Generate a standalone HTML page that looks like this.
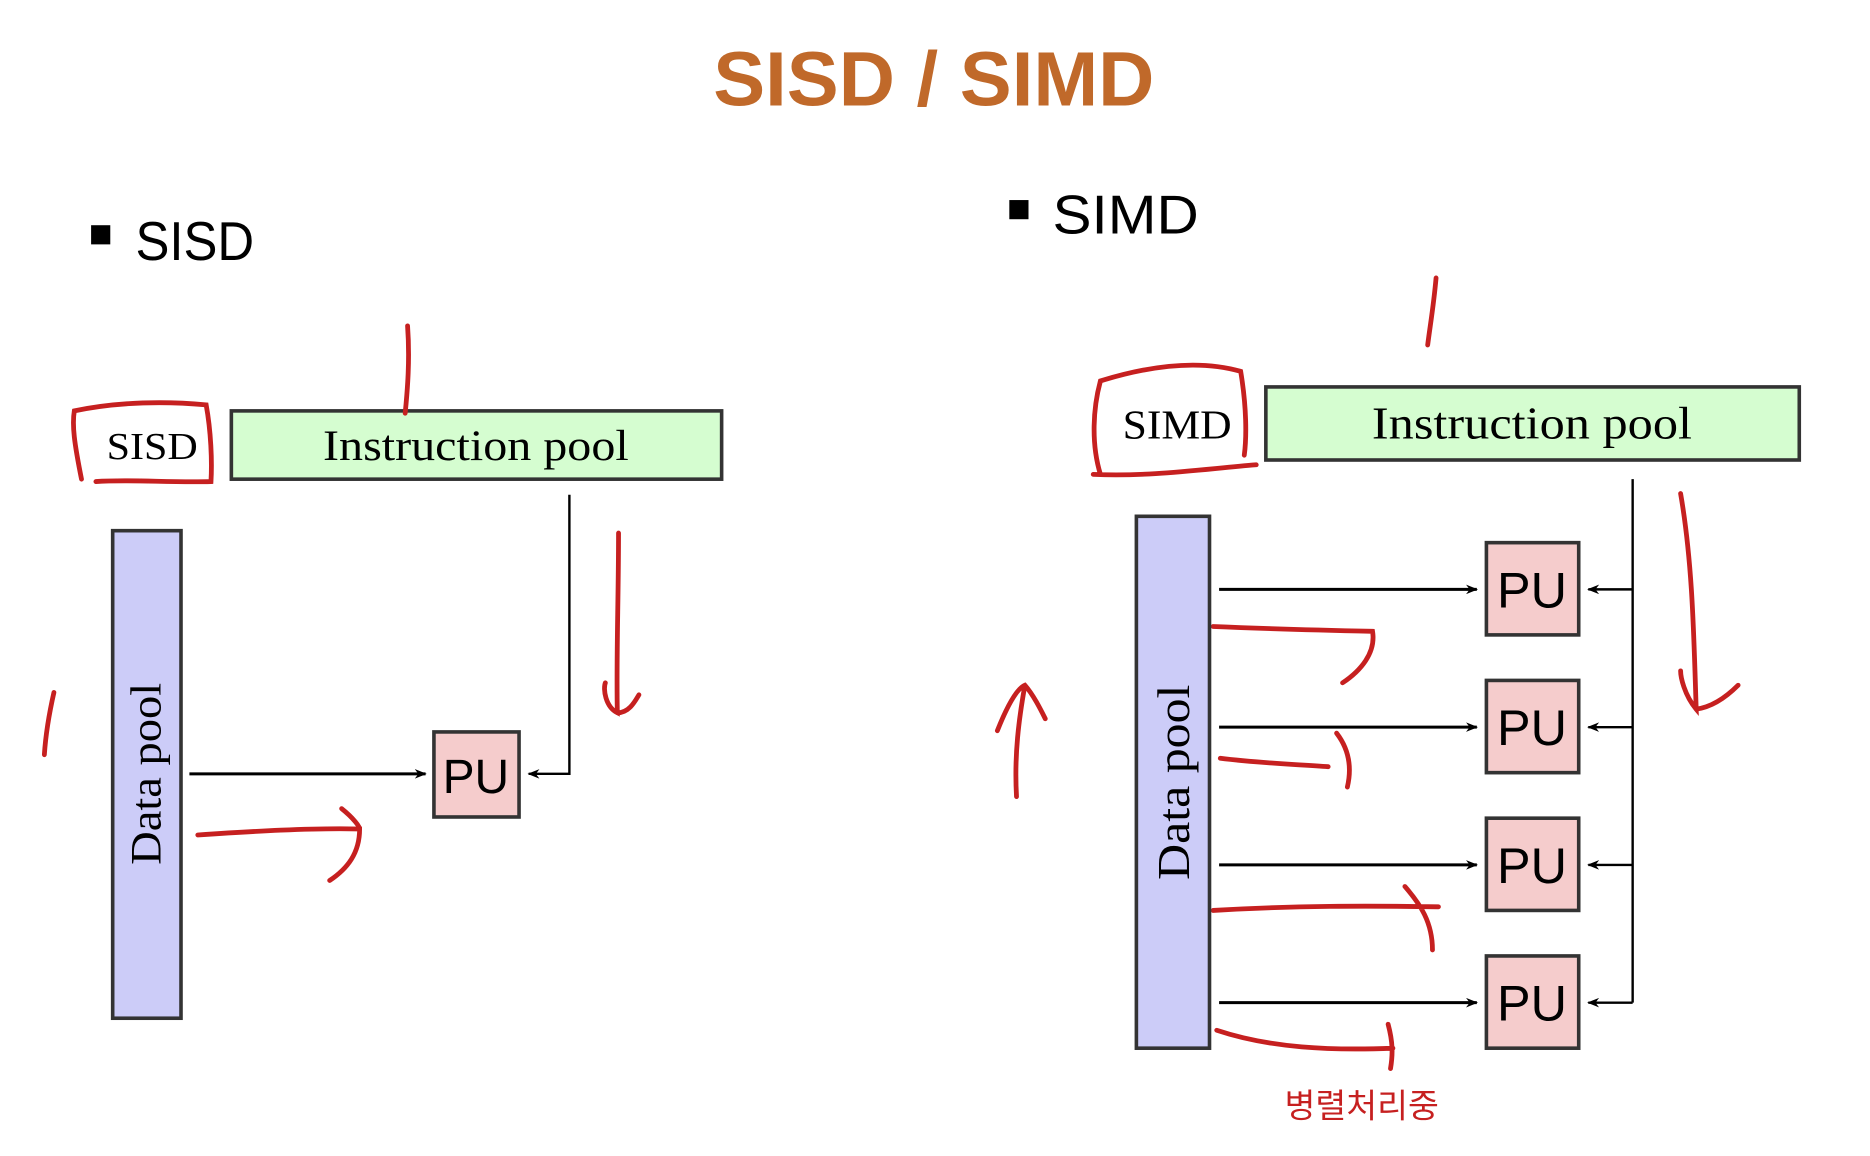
<!DOCTYPE html>
<html><head><meta charset="utf-8"><style>
html,body{margin:0;padding:0;background:#fff;width:1870px;height:1156px;overflow:hidden}
svg{display:block}
</style></head><body>
<svg width="1870" height="1156" viewBox="0 0 1560 965" preserveAspectRatio="none" xmlns="http://www.w3.org/2000/svg">
<defs>
<marker id="ah" markerWidth="10" markerHeight="8" refX="9" refY="4" orient="auto" markerUnits="userSpaceOnUse"><path d="M0,0 L10,4 L0,8 L3,4 Z" fill="#000"/></marker>
</defs>
<text x="779" y="88" text-anchor="middle" font-family="Liberation Sans, sans-serif" font-weight="bold" font-size="64" fill="#c0692a" textLength="368" lengthAdjust="spacingAndGlyphs">SISD / SIMD</text>
<rect x="76" y="188" width="16" height="16" fill="#000"/>
<text x="113" y="217" font-family="Liberation Sans, sans-serif" font-size="46" textLength="99" lengthAdjust="spacingAndGlyphs">SISD</text>
<rect x="842" y="167" width="16" height="16" fill="#000"/>
<text x="878" y="195" font-family="Liberation Sans, sans-serif" font-size="46" textLength="122" lengthAdjust="spacingAndGlyphs">SIMD</text>

<!-- SISD -->
<rect x="193" y="343" width="409" height="57" fill="#d5fdd0" stroke="#333" stroke-width="3"/>
<text x="397" y="384" text-anchor="middle" font-family="Liberation Serif, serif" font-size="36" textLength="255" lengthAdjust="spacingAndGlyphs">Instruction pool</text>
<text x="127" y="383" text-anchor="middle" font-family="Liberation Serif, serif" font-size="32" textLength="76" lengthAdjust="spacingAndGlyphs">SISD</text>
<rect x="94" y="443" width="57" height="407" fill="#ccccf8" stroke="#333" stroke-width="3"/>
<text transform="translate(134,646) rotate(-90)" text-anchor="middle" font-family="Liberation Serif, serif" font-size="36" textLength="152" lengthAdjust="spacingAndGlyphs">Data pool</text>
<line x1="158" y1="646" x2="355" y2="646" stroke="#000" stroke-width="2.5" marker-end="url(#ah)"/>
<rect x="362" y="611" width="71" height="71" fill="#f5cccc" stroke="#333" stroke-width="3"/>
<text x="397" y="662" text-anchor="middle" font-family="Liberation Sans, sans-serif" font-size="40">PU</text>
<polyline points="475,413 475,646 441,646" fill="none" stroke="#000" stroke-width="2" marker-end="url(#ah)"/>

<g fill="none" stroke="#c62020" stroke-width="4" stroke-linecap="round">
<path d="M68,400 C62,370 60,355 62,343 C100,335 140,335 172,338 C176,360 177,385 176,402 C140,403 110,400 80,402"/>
<path d="M340,272 C342,300 340,325 338,345"/>
<path d="M516,445 C516,500 514,550 515,595 C505,590 503,575 505,570 M515,595 C525,595 530,585 533,580"/>
<path d="M45,578 C40,600 38,615 37,630"/>
<path d="M165,697 C210,694 260,691 300,692 C300,712 290,725 275,735 M285,675 C295,683 300,690 300,692"/>

<path d="M918,396 C910,370 912,340 918,318 C960,305 1000,300 1035,310 C1040,340 1040,365 1038,380 M912,396 C960,398 1000,392 1048,388"/>
<path d="M1198,232 C1196,255 1193,272 1191,288"/>
<path d="M1402,412 C1412,470 1413,530 1415,592 C1405,580 1402,565 1402,560 M1415,592 C1430,590 1442,580 1450,572"/>
<path d="M848,665 C846,630 850,600 855,572 M832,610 C840,590 848,575 855,572 C862,580 868,592 872,600"/>
<path d="M1012,523 C1060,525 1100,526 1145,527 C1148,545 1135,560 1120,570"/>
<path d="M1018,633 C1050,637 1080,638 1108,640 M1115,612 C1125,625 1128,640 1124,657"/>
<path d="M1012,760 C1080,756 1140,756 1200,757 M1172,740 C1185,755 1195,770 1195,793"/>
<path d="M1015,860 C1060,875 1110,877 1162,875 M1158,855 C1162,870 1162,880 1160,892"/>
</g>

<!-- SIMD -->
<rect x="1056" y="323" width="445" height="61" fill="#d5fdd0" stroke="#333" stroke-width="3"/>
<text x="1278" y="366" text-anchor="middle" font-family="Liberation Serif, serif" font-size="38" textLength="267" lengthAdjust="spacingAndGlyphs">Instruction pool</text>
<text x="982" y="366" text-anchor="middle" font-family="Liberation Serif, serif" font-size="34" textLength="91" lengthAdjust="spacingAndGlyphs">SIMD</text>
<rect x="948" y="431" width="61" height="444" fill="#ccccf8" stroke="#333" stroke-width="3"/>
<text transform="translate(992,653) rotate(-90)" text-anchor="middle" font-family="Liberation Serif, serif" font-size="38" textLength="163" lengthAdjust="spacingAndGlyphs">Data pool</text>
<line x1="1362" y1="400" x2="1362" y2="837" stroke="#000" stroke-width="2"/>
<g font-family="Liberation Sans, sans-serif" font-size="42" text-anchor="middle">
<rect x="1240" y="453" width="77" height="77" fill="#f5cccc" stroke="#333" stroke-width="3"/>
<text x="1278" y="507">PU</text>
<rect x="1240" y="568" width="77" height="77" fill="#f5cccc" stroke="#333" stroke-width="3"/>
<text x="1278" y="622">PU</text>
<rect x="1240" y="683" width="77" height="77" fill="#f5cccc" stroke="#333" stroke-width="3"/>
<text x="1278" y="737">PU</text>
<rect x="1240" y="798" width="77" height="77" fill="#f5cccc" stroke="#333" stroke-width="3"/>
<text x="1278" y="852">PU</text>
</g>
<g stroke="#000" stroke-width="2.5">
<line x1="1017" y1="492" x2="1232" y2="492" marker-end="url(#ah)"/>
<line x1="1017" y1="607" x2="1232" y2="607" marker-end="url(#ah)"/>
<line x1="1017" y1="722" x2="1232" y2="722" marker-end="url(#ah)"/>
<line x1="1017" y1="837" x2="1232" y2="837" marker-end="url(#ah)"/>
<line x1="1362" y1="492" x2="1325" y2="492" stroke-width="2" marker-end="url(#ah)"/>
<line x1="1362" y1="607" x2="1325" y2="607" stroke-width="2" marker-end="url(#ah)"/>
<line x1="1362" y1="722" x2="1325" y2="722" stroke-width="2" marker-end="url(#ah)"/>
<line x1="1362" y1="837" x2="1325" y2="837" stroke-width="2" marker-end="url(#ah)"/>
</g>
<text x="1136" y="933" text-anchor="middle" font-family="Liberation Sans, 'Noto Sans CJK KR', sans-serif" font-size="28" fill="#c62020">병렬처리중</text>
</svg>
</body></html>
